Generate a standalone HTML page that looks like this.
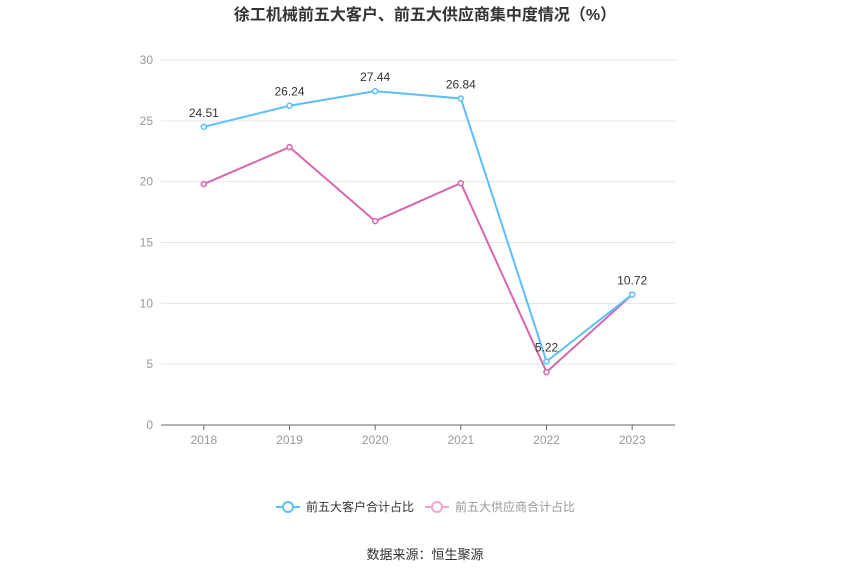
<!DOCTYPE html>
<html><head><meta charset="utf-8"><style>
body{margin:0;background:#fff;font-family:"Liberation Sans","Noto Sans CJK SC",sans-serif;}
</style></head><body>
<svg id="chart" width="850" height="575" xmlns="http://www.w3.org/2000/svg">
<text x="425" y="20" text-anchor="middle" font-size="16" font-weight="bold" fill="#333" font-family="Liberation Sans,Noto Sans CJK SC,sans-serif">徐工机械前五大客户、前五大供应商集中度情况（%）</text>
<g id="grid"></g><g id="series"></g>
<g>
<g>
<line x1="276" y1="507" x2="300" y2="507" stroke="#5bc0f8" stroke-width="2"/>
<circle cx="288" cy="507" r="5" fill="#fff" stroke="#5bc0f8" stroke-width="2"/>
<text x="306" y="511" font-size="12" fill="#333">前五大客户合计占比</text></g>
<g>
<line x1="425" y1="507" x2="449" y2="507" stroke="#f0a8d0" stroke-width="2"/>
<circle cx="437" cy="507" r="5" fill="#fff" stroke="#f0a8d0" stroke-width="2"/>
<text x="455" y="511" font-size="12" fill="#999">前五大供应商合计占比</text></g>
</g>
<text x="425" y="559" text-anchor="middle" font-size="13" fill="#333">数据来源：恒生聚源</text>
</svg>
<script>
const categories=["2018","2019","2020","2021","2022","2023"];
const customers=[24.51,26.24,27.44,26.84,5.22,10.72];
const suppliers=[19.8,22.84,16.76,19.88,4.35,10.72];
const yTicks=[0,5,10,15,20,25,30];
const customerLabels=["24.51","26.24","27.44","26.84","5.22","10.72"];
const NS="http://www.w3.org/2000/svg";
const x0=161,x1=675,yTop=60,yBot=425,yMax=30;
const bw=(x1-x0)/categories.length;
function xs(i){return x0+bw*(i+0.5);}
function ys(v){return yBot-(v/yMax)*(yBot-yTop);}
function mk(tag,attrs,parent){const e=document.createElementNS(NS,tag);for(const k in attrs)e.setAttribute(k,attrs[k]);parent.appendChild(e);return e;}
const grid=document.getElementById('grid'),ser=document.getElementById('series');
yTicks.forEach(t=>{
 const l=mk('line',{x1:x0,x2:x1,y1:ys(t),y2:ys(t),stroke:t===0?'#666':'#e3e6ee','stroke-width':1},grid);
 
 
 const tx=mk('text',{x:153,y:ys(t)+4,'text-anchor':'end','font-size':12,fill:'#999'},grid);
 tx.textContent=t;
 
 
});
categories.forEach((c,i)=>{
 const tk=mk('line',{x1:xs(i),x2:xs(i),y1:yBot,y2:yBot+5,stroke:'#666'},grid);
 
 
 const tx=mk('text',{x:xs(i),y:yBot+19,'text-anchor':'middle','font-size':12,fill:'#999'},grid);
 tx.textContent=c;
 
 
});
function draw(vals,color,name,labels){
 const p=mk('polyline',{points:vals.map((v,i)=>xs(i)+','+ys(v)).join(' '),fill:'none',stroke:color,'stroke-width':2},ser);
 
 
 vals.forEach((v,i)=>{
  const c=mk('circle',{cx:xs(i),cy:ys(v),r:2.5,fill:'#fff',stroke:color,'stroke-width':1.5},ser);
  
  
  if(labels){
   const t=mk('text',{x:xs(i),y:ys(v)-10,'text-anchor':'middle','font-size':12,fill:'#333'},ser);
   t.textContent=labels[i];
   
   
  }
 });
}
draw(suppliers,'#d966ad','suppliers',null);
draw(customers,'#5bc0f8','customers',customerLabels);
</script>
</body></html>
